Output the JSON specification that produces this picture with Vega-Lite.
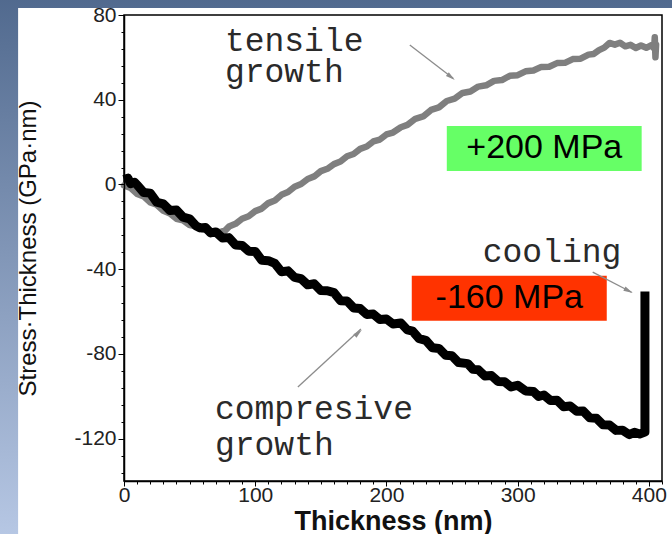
{
  "$schema": "https://vega.github.io/schema/vega-lite/v6.json",
  "width": 538,
  "height": 466,
  "autosize": {"type": "none"},
  "padding": {"left": 124, "top": 15, "right": 10, "bottom": 53},
  "background": "white",
  "config": {"view": {"stroke": null}},
  "datasets": {
    "bg": [{"x": -110, "x2": 440, "y": -190, "y2": 95}],
    "panel": [{"x": -80.7, "x2": 440, "y": -190, "y2": 83.3}],
    "frame": [{"x": 0, "x2": 410, "y": -140, "y2": 80}],
    "boxes": [
      {"kind": "plus", "x": 246, "x2": 394.5, "y": 27.6, "y2": 6.3},
      {"kind": "minus", "x": 219.3, "x2": 367.9, "y": -43.1, "y2": -64.3}
    ],
    "mpa": [
      {"x": 320.3, "y": 17, "t": "+200 MPa"},
      {"x": 293.6, "y": -53.7, "t": "-160 MPa"}
    ],
    "notes": [
      {"x": 76.9, "y": 63.0, "t": "tensile"},
      {"x": 76.9, "y": 48.3, "t": "growth"},
      {"x": 69.3, "y": -110.7, "t": "compresive"},
      {"x": 69.3, "y": -127.7, "t": "growth"},
      {"x": 273.4, "y": -36.6, "t": "cooling"}
    ],
    "arrows": [
      {"id": "t", "x": 217.8, "y": 65.8},
      {"id": "t", "x": 251.0, "y": 50.0},
      {"id": "c", "x": 132.5, "y": -95.6},
      {"id": "c", "x": 180.5, "y": -68.2},
      {"id": "k", "x": 357.2, "y": -41.4},
      {"id": "k", "x": 386.8, "y": -50.9}
    ],
    "heads": [
      {"id": "t", "x": 252.1, "y": 49.3},
      {"id": "c", "x": 181.3, "y": -68.6},
      {"id": "k", "x": 387.7, "y": -51.3}
    ],
    "gray": [
      {"x": 0, "y": -0.5}, {"x": 5, "y": -1.6}, {"x": 10, "y": -4.5}, {"x": 15, "y": -5.6},
      {"x": 20, "y": -8.5}, {"x": 25, "y": -9.6}, {"x": 30, "y": -12.4}, {"x": 35, "y": -13.7},
      {"x": 40, "y": -16.2}, {"x": 45, "y": -17.0}, {"x": 50, "y": -19.2}, {"x": 55, "y": -19.7},
      {"x": 60, "y": -21.3}, {"x": 65, "y": -21.8}, {"x": 70, "y": -22.9}, {"x": 74, "y": -22.3},
      {"x": 77, "y": -21.8}, {"x": 80, "y": -19.9}, {"x": 85, "y": -18.6}, {"x": 90, "y": -16.2},
      {"x": 95, "y": -15.0}, {"x": 100, "y": -12.6}, {"x": 105, "y": -11.4}, {"x": 110, "y": -8.8},
      {"x": 115, "y": -7.6}, {"x": 120, "y": -4.9}, {"x": 125, "y": -3.6}, {"x": 130, "y": -1.1},
      {"x": 135, "y": 0.2}, {"x": 140, "y": 2.6}, {"x": 145, "y": 3.8}, {"x": 150, "y": 6.3},
      {"x": 155, "y": 7.4}, {"x": 160, "y": 9.6}, {"x": 165, "y": 10.8}, {"x": 170, "y": 13.3},
      {"x": 175, "y": 14.4}, {"x": 180, "y": 16.8}, {"x": 185, "y": 17.9}, {"x": 190, "y": 20.3},
      {"x": 195, "y": 21.2}, {"x": 200, "y": 23.6}, {"x": 205, "y": 24.5}, {"x": 211, "y": 27.0},
      {"x": 216, "y": 28.1}, {"x": 222, "y": 31.0}, {"x": 228, "y": 32.1}, {"x": 234, "y": 35.2},
      {"x": 240, "y": 36.4}, {"x": 246, "y": 39.4}, {"x": 252, "y": 40.5}, {"x": 258, "y": 43.2},
      {"x": 264, "y": 43.9}, {"x": 270, "y": 46.2}, {"x": 276, "y": 46.8}, {"x": 282, "y": 48.9},
      {"x": 288, "y": 49.3}, {"x": 294, "y": 51.3}, {"x": 300, "y": 51.6}, {"x": 306, "y": 53.4},
      {"x": 312, "y": 53.8}, {"x": 318, "y": 55.5}, {"x": 324, "y": 55.6}, {"x": 330, "y": 57.3},
      {"x": 336, "y": 57.4}, {"x": 342, "y": 59.2}, {"x": 348, "y": 59.4}, {"x": 354, "y": 61.3},
      {"x": 358, "y": 61.6}, {"x": 362, "y": 63.4}, {"x": 366, "y": 64.6}, {"x": 370, "y": 66.8},
      {"x": 374, "y": 66.0}, {"x": 378, "y": 66.9}, {"x": 382, "y": 65.2}, {"x": 386, "y": 65.9},
      {"x": 390, "y": 64.4}, {"x": 394, "y": 65.6}, {"x": 398, "y": 64.5}, {"x": 402, "y": 65.8},
      {"x": 404, "y": 64.2}, {"x": 404.5, "y": 69.5}, {"x": 405, "y": 60.0}, {"x": 405.5, "y": 66.0}
    ],
    "black": [
      {"x": 0, "y": 2.3}, {"x": 3, "y": 3.0}, {"x": 5, "y": 0.4}, {"x": 8, "y": 1.0},
      {"x": 10, "y": -0.2}, {"x": 15, "y": -3.8}, {"x": 20, "y": -4.1}, {"x": 25, "y": -8.4},
      {"x": 30, "y": -9.2}, {"x": 35, "y": -12.3}, {"x": 40, "y": -12.1}, {"x": 45, "y": -15.4},
      {"x": 50, "y": -16.2}, {"x": 55, "y": -19.6}, {"x": 58, "y": -20.5}, {"x": 62, "y": -20.3},
      {"x": 66, "y": -22.9}, {"x": 70, "y": -22.4}, {"x": 75, "y": -25.3}, {"x": 80, "y": -25.1},
      {"x": 85, "y": -28.6}, {"x": 90, "y": -28.8}, {"x": 95, "y": -31.5}, {"x": 100, "y": -31.6},
      {"x": 105, "y": -35.8}, {"x": 110, "y": -36.0}, {"x": 115, "y": -37.3}, {"x": 120, "y": -41.2},
      {"x": 125, "y": -40.8}, {"x": 130, "y": -43.9}, {"x": 135, "y": -44.5}, {"x": 140, "y": -47.4},
      {"x": 145, "y": -46.9}, {"x": 150, "y": -50.1}, {"x": 155, "y": -50.2}, {"x": 160, "y": -51.1},
      {"x": 165, "y": -54.9}, {"x": 170, "y": -55.0}, {"x": 175, "y": -58.3}, {"x": 180, "y": -58.6},
      {"x": 185, "y": -61.4}, {"x": 190, "y": -61.2}, {"x": 195, "y": -63.8}, {"x": 200, "y": -63.5},
      {"x": 205, "y": -65.9}, {"x": 211, "y": -65.4}, {"x": 216, "y": -68.7}, {"x": 220, "y": -69.3},
      {"x": 225, "y": -72.8}, {"x": 230, "y": -73.6}, {"x": 235, "y": -77.1}, {"x": 240, "y": -77.4},
      {"x": 245, "y": -80.6}, {"x": 250, "y": -80.9}, {"x": 255, "y": -84.1}, {"x": 262, "y": -84.6},
      {"x": 266, "y": -87.3}, {"x": 270, "y": -87.5}, {"x": 275, "y": -90.4}, {"x": 280, "y": -90.2},
      {"x": 285, "y": -93.0}, {"x": 290, "y": -93.1}, {"x": 295, "y": -95.6}, {"x": 300, "y": -94.8},
      {"x": 306, "y": -97.5}, {"x": 312, "y": -97.7}, {"x": 316, "y": -100.1}, {"x": 320, "y": -99.4},
      {"x": 325, "y": -102.0}, {"x": 330, "y": -101.9}, {"x": 335, "y": -104.9}, {"x": 340, "y": -104.6},
      {"x": 345, "y": -107.1}, {"x": 350, "y": -107.0}, {"x": 355, "y": -110.2}, {"x": 360, "y": -110.4},
      {"x": 365, "y": -113.4}, {"x": 370, "y": -113.6}, {"x": 375, "y": -116.1}, {"x": 380, "y": -116.0},
      {"x": 385, "y": -118.1}, {"x": 389, "y": -117.0}, {"x": 393, "y": -117.8}, {"x": 397, "y": -116.9},
      {"x": 397, "y": -50.5}
    ]
  },
  "encoding": {
    "x": {
      "field": "x", "type": "quantitative",
      "scale": {"domain": [0, 410], "nice": false, "zero": false},
      "axis": {
        "zindex": 2,
        "values": [0, 10, 20, 30, 40, 50, 60, 70, 80, 90, 100, 110, 120, 130, 140, 150, 160, 170, 180, 190, 200, 210, 220, 230, 240, 250, 260, 270, 280, 290, 300, 310, 320, 330, 340, 350, 360, 370, 380, 390, 400, 410],
        "labelExpr": "datum.value % 100 === 0 ? '' + datum.value : ''",
        "labelOverlap": false, "labelFlush": false,
        "tickSize": {"condition": {"test": "datum.value % 100 === 0", "value": 5}, "value": 3},
        "tickColor": "black", "domainColor": "black", "domainWidth": 1.5,
        "labelFont": "Liberation Sans", "labelFontSize": 21, "labelColor": "#222", "labelPadding": -2,
        "grid": false,
        "title": "Thickness (nm)", "titleFont": "Liberation Sans", "titleFontSize": 27,
        "titleFontWeight": "bold", "titleColor": "#111", "titlePadding": 3
      }
    },
    "y": {
      "field": "y", "type": "quantitative",
      "scale": {"domain": [-140, 80], "nice": false, "zero": false},
      "axis": {
        "zindex": 2,
        "values": [-136, -128, -120, -112, -104, -96, -88, -80, -72, -64, -56, -48, -40, -32, -24, -16, -8, 0, 8, 16, 24, 32, 40, 48, 56, 64, 72, 80],
        "labelExpr": "datum.value % 40 === 0 ? '' + datum.value : ''",
        "labelOverlap": false, "labelFlush": false,
        "tickSize": {"condition": {"test": "datum.value % 40 === 0", "value": 6}, "value": 3},
        "tickColor": "black", "domainColor": "black", "domainWidth": 1.5,
        "labelFont": "Liberation Sans", "labelFontSize": 21, "labelColor": "#222", "labelPadding": 2,
        "grid": false,
        "title": "Stress·Thickness (GPa·nm)", "titleFont": "Liberation Sans", "titleFontSize": 24,
        "titleFontWeight": "normal", "titleColor": "#111", "titlePadding": 33
      }
    }
  },
  "layer": [
    {
      "data": {"name": "bg"},
      "mark": {"type": "rect", "fill": {"gradient": "linear", "x1": 0, "y1": 0, "x2": 0, "y2": 1, "stops": [{"offset": 0, "color": "#4e678c"}, {"offset": 1, "color": "#c0d0ec"}]}},
      "encoding": {"x2": {"field": "x2"}, "y2": {"field": "y2"}}
    },
    {
      "data": {"name": "panel"},
      "mark": {"type": "rect", "fill": "white"},
      "encoding": {"x2": {"field": "x2"}, "y2": {"field": "y2"}}
    },
    {
      "data": {"name": "frame"},
      "mark": {"type": "rect", "filled": false, "stroke": "black", "strokeWidth": 1.5},
      "encoding": {"x2": {"field": "x2"}, "y2": {"field": "y2"}}
    },
    {
      "data": {"name": "boxes"},
      "mark": {"type": "rect"},
      "encoding": {
        "x2": {"field": "x2"}, "y2": {"field": "y2"},
        "color": {"field": "kind", "type": "nominal", "scale": {"domain": ["plus", "minus"], "range": ["#66ff66", "#ff3300"]}, "legend": null}
      }
    },
    {
      "data": {"name": "mpa"},
      "mark": {"type": "text", "font": "Liberation Sans", "fontSize": 34, "color": "black", "align": "center", "baseline": "middle"},
      "encoding": {"text": {"field": "t"}}
    },
    {
      "data": {"name": "gray"},
      "mark": {"type": "line", "color": "#7f7f7f", "strokeWidth": 6.5, "strokeJoin": "round", "strokeCap": "round"},
      "encoding": {"order": {"value": null}}
    },
    {
      "data": {"name": "black"},
      "mark": {"type": "line", "color": "black", "strokeWidth": 9, "strokeJoin": "round", "strokeCap": "butt"},
      "encoding": {"order": {"value": null}}
    },
    {
      "data": {"name": "arrows"},
      "mark": {"type": "line", "color": "#8c8c8c", "strokeWidth": 1.3},
      "encoding": {"detail": {"field": "id"}, "order": {"value": null}}
    },
    {
      "data": {"name": "heads"},
      "transform": [{"filter": "datum.id === 't'"}],
      "mark": {"type": "point", "shape": "M0,0L0.45,1.8L-0.45,1.8Z", "filled": true, "color": "#8c8c8c", "size": 110, "angle": 128, "opacity": 1}
    },
    {
      "data": {"name": "heads"},
      "transform": [{"filter": "datum.id === 'c'"}],
      "mark": {"type": "point", "shape": "M0,0L0.45,1.8L-0.45,1.8Z", "filled": true, "color": "#8c8c8c", "size": 110, "angle": 48, "opacity": 1}
    },
    {
      "data": {"name": "heads"},
      "transform": [{"filter": "datum.id === 'k'"}],
      "mark": {"type": "point", "shape": "M0,0L0.45,1.8L-0.45,1.8Z", "filled": true, "color": "#8c8c8c", "size": 110, "angle": 118, "opacity": 1}
    },
    {
      "data": {"name": "notes"},
      "mark": {"type": "text", "font": "Liberation Mono", "fontSize": 33, "color": "#2a2a2a", "align": "left", "baseline": "alphabetic"},
      "encoding": {"text": {"field": "t"}}
    }
  ]
}
